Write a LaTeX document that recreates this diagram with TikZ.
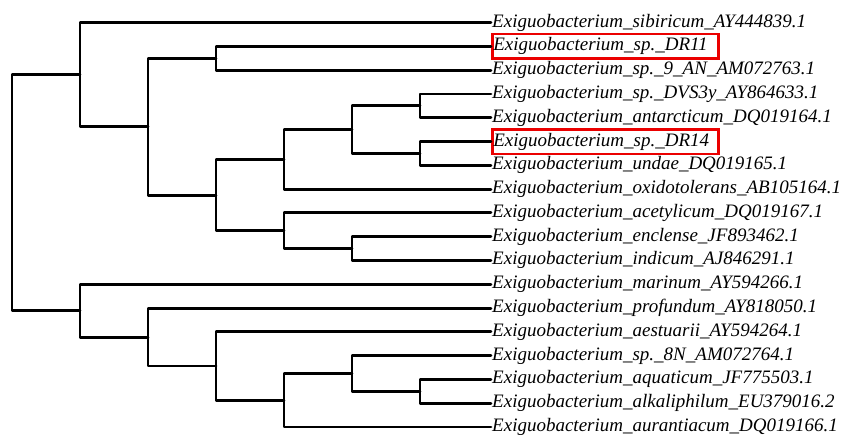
\documentclass[tikz,border=0pt]{standalone}
\usepackage{fontspec}
\setmainfont{Liberation Serif}
\usepackage{tikz}

\tikzset{
  branch/.style={line width=2.9pt,line join=round,line cap=round},
  leaf/.style={anchor=west,inner xsep=1pt,inner ysep=0pt,text height=13pt,text depth=4pt,
    font=\fontsize{19}{19}\selectfont\itshape},
  hilite/.style={leaf,draw=red!92!black,line width=2.6pt,inner ysep=3.8pt,text width=224pt,align=left}
}

\begin{document}
\begin{tikzpicture}[x=1pt,y=-1pt]
\useasboundingbox (0,0) rectangle (842,435);
% leaves
\node[leaf]   (sib)  at (491,22.7)  {Exiguobacterium\_sibiricum\_AY444839.1};
\node[hilite] (dr11) at (491,46.5)  {Exiguobacterium\_sp.\_DR11};
\node[leaf]   (an9)  at (491,70.3)  {Exiguobacterium\_sp.\_9\_AN\_AM072763.1};
\node[leaf]   (dvs)  at (491,94.0)  {Exiguobacterium\_sp.\_DVS3y\_AY864633.1};
\node[leaf]   (ant)  at (491,117.8) {Exiguobacterium\_antarcticum\_DQ019164.1};
\node[hilite] (dr14) at (491,141.6) {Exiguobacterium\_sp.\_DR14};
\node[leaf]   (und)  at (491,165.4) {Exiguobacterium\_undae\_DQ019165.1};
\node[leaf]   (oxi)  at (491,189.2) {Exiguobacterium\_oxidotolerans\_AB105164.1};
\node[leaf]   (ace)  at (491,212.9) {Exiguobacterium\_acetylicum\_DQ019167.1};
\node[leaf]   (enc)  at (491,236.7) {Exiguobacterium\_enclense\_JF893462.1};
\node[leaf]   (ind)  at (491,260.5) {Exiguobacterium\_indicum\_AJ846291.1};
\node[leaf]   (mar)  at (491,284.3) {Exiguobacterium\_marinum\_AY594266.1};
\node[leaf]   (pro)  at (491,308.1) {Exiguobacterium\_profundum\_AY818050.1};
\node[leaf]   (aes)  at (491,331.8) {Exiguobacterium\_aestuarii\_AY594264.1};
\node[leaf]   (n8)   at (491,355.6) {Exiguobacterium\_sp.\_8N\_AM072764.1};
\node[leaf]   (aqu)  at (491,379.4) {Exiguobacterium\_aquaticum\_JF775503.1};
\node[leaf]   (alk)  at (491,403.2) {Exiguobacterium\_alkaliphilum\_EU379016.2};
\node[leaf]   (aur)  at (491,427.0) {Exiguobacterium\_aurantiacum\_DQ019166.1};
% inner nodes
\coordinate (root) at (12,192.7);
\coordinate (A) at (80,74.7);
\coordinate (C) at (148,126.75);
\coordinate (D) at (216,58.4);
\coordinate (E) at (216,195.1);
\coordinate (F) at (284,159.45);
\coordinate (G) at (352,129.7);
\coordinate (H) at (420,105.9);
\coordinate (I) at (420,153.5);
\coordinate (J) at (284,230.75);
\coordinate (K) at (352,248.6);
\coordinate (B) at (80,310.7);
\coordinate (L) at (148,337.05);
\coordinate (M) at (216,366);
\coordinate (N) at (284,400.2);
\coordinate (O) at (352,373.45);
\coordinate (P) at (420,391.3);
% branches
\draw[branch] (root) |- (A);
\draw[branch] (root) |- (B);
\draw[branch] (A) |- (sib.west);
\draw[branch] (A) |- (C);
\draw[branch] (C) |- (D);
\draw[branch] (C) |- (E);
\draw[branch] (D) |- (dr11.west);
\draw[branch] (D) |- (an9.west);
\draw[branch] (E) |- (F);
\draw[branch] (E) |- (J);
\draw[branch] (F) |- (G);
\draw[branch] (F) |- (oxi.west);
\draw[branch] (G) |- (H);
\draw[branch] (G) |- (I);
\draw[branch] (H) |- (dvs.west);
\draw[branch] (H) |- (ant.west);
\draw[branch] (I) |- (dr14.west);
\draw[branch] (I) |- (und.west);
\draw[branch] (J) |- (ace.west);
\draw[branch] (J) |- (K);
\draw[branch] (K) |- (enc.west);
\draw[branch] (K) |- (ind.west);
\draw[branch] (B) |- (mar.west);
\draw[branch] (B) |- (L);
\draw[branch] (L) |- (pro.west);
\draw[branch] (L) |- (M);
\draw[branch] (M) |- (aes.west);
\draw[branch] (M) |- (N);
\draw[branch] (N) |- (O);
\draw[branch] (N) |- (aur.west);
\draw[branch] (O) |- (n8.west);
\draw[branch] (O) |- (P);
\draw[branch] (P) |- (aqu.west);
\draw[branch] (P) |- (alk.west);
\end{tikzpicture}
\end{document}
